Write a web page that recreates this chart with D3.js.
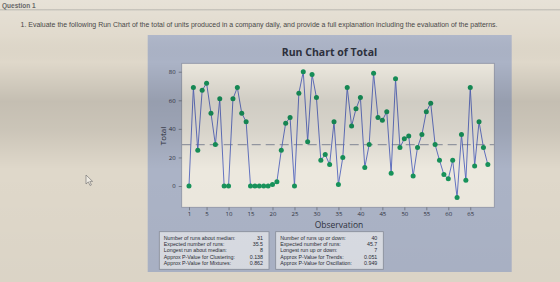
<!DOCTYPE html>
<html>
<head>
<meta charset="utf-8">
<script src="https://cdn.jsdelivr.net/npm/d3@7"></script>
<style>
html, body { margin: 0; padding: 0; overflow: hidden; background: #ddd6c8; }
</style>
</head>
<body>
<script>
// Total units per observation
var totals = [0, 69, 25, 67, 72, 51, 29, 61, 0, 0,
              61, 69, 51, 45, 0, 0, 0, 0, 0, 1,
              3, 25, 44, 48, 0, 65, 80, 31, 78, 62,
              18, 22, 15, 45, 1, 20, 69, 42, 54, 62,
              13, 29, 79, 48, 46, 52, 9, 75, 27, 33,
              35, 7, 27, 36, 52, 58, 29, 18, 8, 5,
              18, -8, 36, 4, 69, 14, 45, 27, 15];
var xTicks = [1, 5, 10, 15, 20, 25, 30, 35, 40, 45, 50, 55, 60, 65];
var yTicks = [0, 20, 40, 60, 80];

var medianLabels = ['Number of runs about median:', 'Expected number of runs:', 'Longest run about median:',
                    'Approx P-Value for Clustering:', 'Approx P-Value for Mixtures:'];
var medianValues = ['31', '35.5', '8', '0.138', '0.862'];
var updownLabels = ['Number of runs up or down:', 'Expected number of runs:', 'Longest run up or down:',
                    'Approx P-Value for Trends:', 'Approx P-Value for Oscillation:'];
var updownValues = ['40', '45.7', '7', '0.051', '0.949'];

var question = '1. Evaluate the following Run Chart of the total of units produced in a company daily, and provide a full explanation including the evaluation of the patterns.';

var width = 560, height = 282;
var plot = { left: 181.7, top: 63.3, right: 494.3, bottom: 207.3 };

var svg = d3.select('body')
    .append('svg')
    .attr('width', width)
    .attr('height', height)
    .style('display', 'block');

var defs = svg.append('defs');
var shade = defs.append('linearGradient')
    .attr('id', 'shade')
    .attr('x1', 0).attr('y1', 0).attr('x2', 0).attr('y2', 1);
[[0, '#ffffff', 0.25], [0.13, '#ffffff', 0.05], [0.22, '#000000', 0.0],
 [0.36, '#000000', 0.12], [0.46, '#000000', 0.09], [0.6, '#000000', 0.0], [1, '#000000', 0.02]]
    .forEach(function (s) {
        shade.append('stop')
            .attr('offset', s[0])
            .attr('stop-color', s[1])
            .attr('stop-opacity', s[2]);
    });

// page
svg.append('rect')
    .attr('width', width).attr('height', height)
    .attr('fill', '#dfd8ca');

svg.append('text')
    .attr('x', 2).attr('y', 7.5)
    .attr('font-family', 'Liberation Sans, Arial, sans-serif')
    .attr('font-weight', 'bold')
    .attr('font-size', 6.5)
    .attr('fill', '#3a3a3a')
    .text('Question 1');

svg.append('line')
    .attr('x1', 0).attr('x2', width)
    .attr('y1', 9.8).attr('y2', 9.8)
    .attr('stroke', '#9a9893')
    .attr('stroke-width', 0.8);

// tall narrow lettering of the photographed page
svg.append('text')
    .attr('transform', 'translate(20.5,26.5) scale(1,1.25)')
    .attr('font-family', 'Liberation Sans, Arial, sans-serif')
    .attr('font-size', 6.4)
    .attr('textLength', 477)
    .attr('lengthAdjust', 'spacingAndGlyphs')
    .attr('fill', '#2f2f2f')
    .text(question);

// mouse pointer in the photo
svg.append('path')
    .attr('transform', 'translate(86,175)')
    .attr('d', 'M0,0 L0,9 L2.3,6.9 L4,10.5 L5.4,9.9 L3.8,6.4 L6.6,6.4 Z')
    .attr('fill', '#eeeae2')
    .attr('stroke', '#6a6a6a')
    .attr('stroke-width', 0.6);

// Minitab graph panel
svg.append('rect')
    .attr('x', 147.7).attr('y', 35)
    .attr('width', 364).attr('height', 237)
    .attr('fill', '#abb3c6');

svg.append('text')
    .attr('x', 329.5).attr('y', 55.5)
    .attr('text-anchor', 'middle')
    .attr('font-family', 'Open Sans, sans-serif')
    .attr('font-weight', 'bold')
    .attr('font-size', 10.5)
    .attr('fill', '#2c2f3c')
    .text('Run Chart of Total');

svg.append('rect')
    .attr('x', plot.left).attr('y', plot.top)
    .attr('width', plot.right - plot.left).attr('height', plot.bottom - plot.top)
    .attr('fill', '#ece8de')
    .attr('stroke', '#8c92a4')
    .attr('stroke-width', 0.8);

var x = d3.scaleLinear().domain([-0.66, 70.47]).range([plot.left, plot.right]);
var y = d3.scaleLinear().domain([-14.9, 85.9]).range([plot.bottom, plot.top]);

var yAxis = svg.append('g')
    .attr('transform', 'translate(' + plot.left + ',0)')
    .call(d3.axisLeft(y).tickValues(yTicks).tickSize(3).tickPadding(3));
var xAxis = svg.append('g')
    .attr('transform', 'translate(0,' + plot.bottom + ')')
    .call(d3.axisBottom(x).tickValues(xTicks).tickSize(3).tickPadding(1));

[yAxis, xAxis].forEach(function (ax) {
    ax.select('.domain').remove();
    ax.selectAll('line').attr('stroke', '#60646e').attr('stroke-width', 0.7);
    ax.selectAll('text')
        .attr('font-family', 'Open Sans, sans-serif')
        .attr('font-size', 6)
        .attr('fill', '#2f3240');
});

svg.append('text')
    .attr('transform', 'translate(165.5,136) rotate(-90)')
    .attr('text-anchor', 'middle')
    .attr('font-family', 'Open Sans, sans-serif')
    .attr('font-size', 8)
    .attr('fill', '#2f3240')
    .text('Total');

svg.append('text')
    .attr('x', 339).attr('y', 227.5)
    .attr('text-anchor', 'middle')
    .attr('font-family', 'Open Sans, sans-serif')
    .attr('font-size', 8.5)
    .attr('fill', '#2f3240')
    .text('Observation');

var med = d3.median(totals);
svg.append('line')
    .attr('x1', plot.left).attr('x2', plot.right)
    .attr('y1', y(med)).attr('y2', y(med))
    .attr('stroke', '#9a9ea8')
    .attr('stroke-width', 1.3)
    .attr('stroke-dasharray', '9,5');

var line = d3.line()
    .x(function (d, i) { return x(i + 1); })
    .y(function (d) { return y(d); });

svg.append('path')
    .datum(totals)
    .attr('d', line)
    .attr('fill', 'none')
    .attr('stroke', '#5465bd')
    .attr('stroke-width', 0.9);

svg.selectAll('circle.pt')
    .data(totals)
    .enter()
    .append('circle')
    .attr('class', 'pt')
    .attr('cx', function (d, i) { return x(i + 1); })
    .attr('cy', function (d) { return y(d); })
    .attr('r', 2.5)
    .attr('fill', '#17925a');

// stats boxes under the chart
function statBox(x0, w, labels, values) {
    var g = svg.append('g');
    g.append('rect')
        .attr('x', x0).attr('y', 231.7)
        .attr('width', w).attr('height', 37.6)
        .attr('fill', '#d9dce3')
        .attr('stroke', '#878c98')
        .attr('stroke-width', 0.8);
    labels.forEach(function (t, i) {
        g.append('text')
            .attr('x', x0 + 4.5).attr('y', 239.6 + i * 6.3)
            .attr('font-family', 'Liberation Sans, Arial, sans-serif')
            .attr('font-size', 5.3)
            .attr('fill', '#2a2c36')
            .text(t);
        g.append('text')
            .attr('x', x0 + w - 6).attr('y', 239.6 + i * 6.3)
            .attr('text-anchor', 'end')
            .attr('font-family', 'Liberation Sans, Arial, sans-serif')
            .attr('font-size', 5.3)
            .attr('fill', '#2a2c36')
            .text(values[i]);
    });
}
statBox(159.3, 109.7, medianLabels, medianValues);
statBox(275.7, 107.6, updownLabels, updownValues);

// lighting of the photograph
svg.append('rect')
    .attr('width', width).attr('height', height)
    .attr('fill', 'url(#shade)')
    .attr('pointer-events', 'none');
</script>
</body>
</html>
